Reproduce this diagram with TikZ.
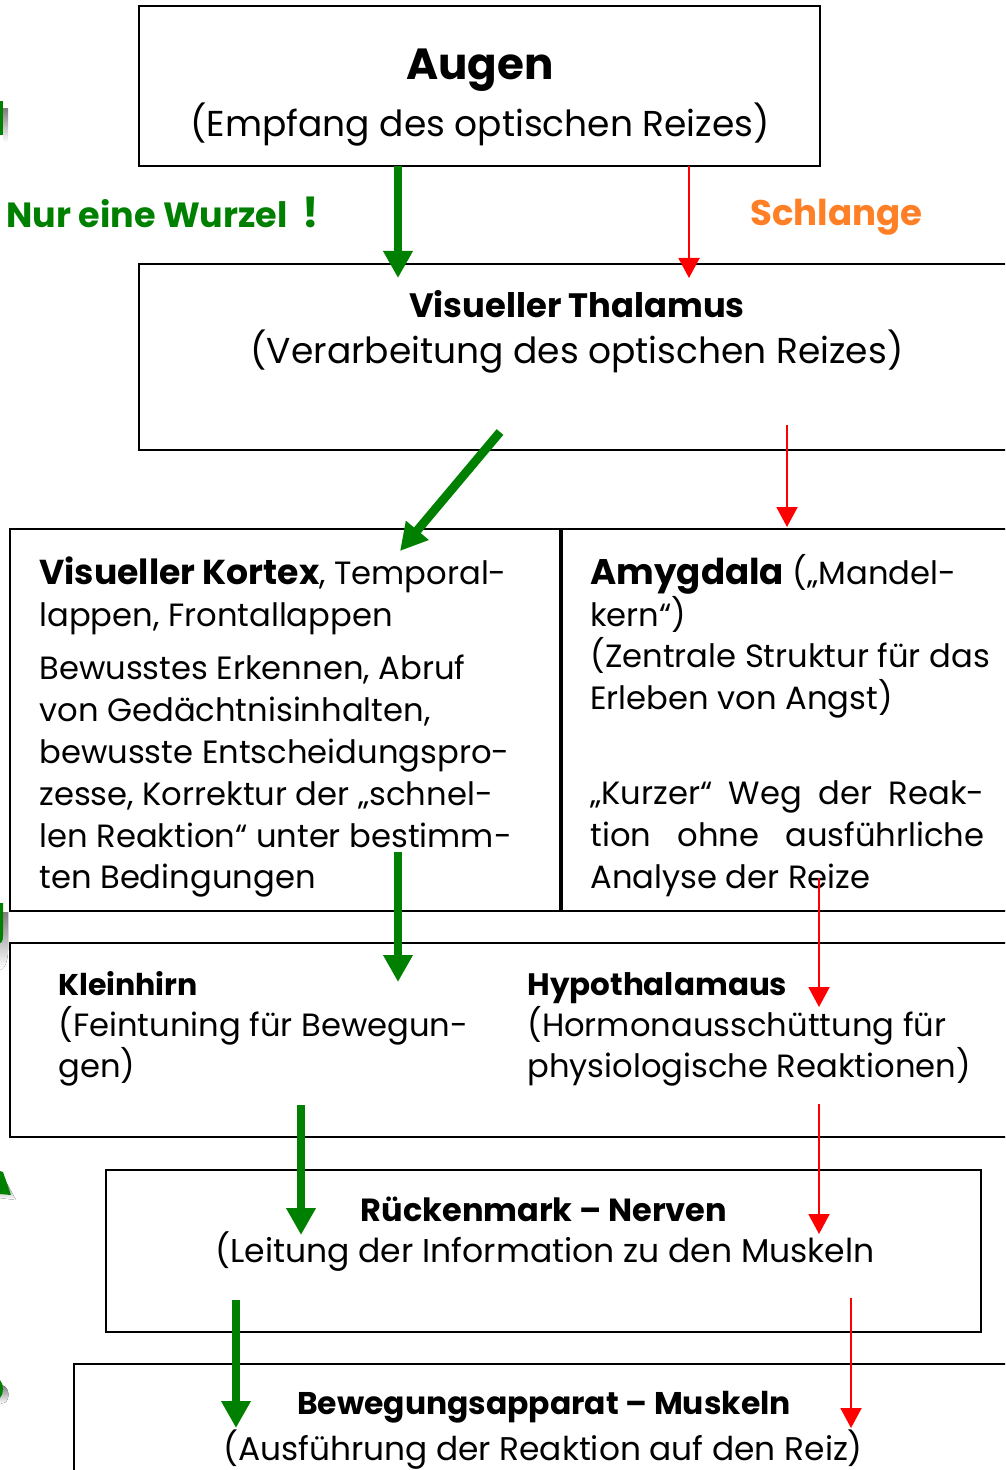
\documentclass[tikz,border=0pt]{standalone}
\usepackage{fontspec}
\setmainfont{Poppins}
\usetikzlibrary{arrows.meta}
\definecolor{gr}{RGB}{0,128,0}
\definecolor{rd}{RGB}{255,0,0}
\definecolor{org}{RGB}{255,127,39}
\definecolor{shade}{RGB}{180,180,180}
\newcommand{\fsz}[1]{\fontsize{#1}{19}\selectfont}
\newcommand{\bsz}[2]{{\fontsize{#1}{19}\selectfont\bfseries #2}}
\tikzset{
  boxline/.style={draw=black,line width=1.4pt},
  garrow/.style={draw=gr,line width=4.4pt,-{Triangle[width=14pt,length=13.5pt]}},
  rarrow/.style={draw=rd,line width=1pt,-{Triangle[width=10.5pt,length=10pt]}},
  txt/.style={inner sep=0pt,anchor=base west,font=\fsz{16.1}},
  ctxt/.style={inner sep=0pt,anchor=base,font=\fsz{16.1}},
}
\begin{document}
\begin{tikzpicture}[x=0.5pt,y=-0.5pt]
\useasboundingbox (0,0) rectangle (1005,1470);
\clip (0,0) rectangle (1005,1470);
% left edge remnants
\fill[shade] (3,109) rectangle (8,142);
\fill[gr] (0,101) rectangle (3,135);
\fill[shade] (0,912) -- (8,912) -- (8,950) .. controls (8,962) and (4,970) .. (0,970) -- cycle;
\fill[gr] (0,903) -- (3,903) -- (3,935) .. controls (3,940) and (2,943) .. (0,943) -- cycle;
\fill[shade] (0,1178) -- (5,1180) -- (16,1200) -- (0,1198) -- cycle;
\fill[gr] (0,1171) -- (3,1172) -- (11,1195) -- (0,1194) -- cycle;
\fill[shade] (0,1385) .. controls (8,1385) and (11,1395) .. (6,1402) -- (0,1404) -- cycle;
\fill[gr] (0,1380) .. controls (4,1384) and (4,1394) .. (0,1398) -- cycle;
% boxes
\draw[boxline] (139,6) rectangle (820,166);
\draw[boxline] (139,264) rectangle (1020,450);
\draw[boxline] (10,529) rectangle (560,911);
\draw[boxline] (562,529) rectangle (1020,911);
\draw[boxline] (10,943) rectangle (1020,1137);
\draw[boxline] (106,1170) rectangle (981,1332);
\draw[boxline] (74,1364) rectangle (1020,1490);
% texts
\node[ctxt] (augen) at (480,80) {\bsz{21.8}{Augen}};
\node[ctxt,font=\fsz{18}] (augen2) at (480,137) {(Empfang des optischen Reizes)};
\node[txt,text=gr] (wurzel) at (6,228) {\bsz{17.5}{Nur eine Wurzel}};
\node[txt,text=gr] (ausruf) at (302,228) {\bsz{21}{!}};
\node[txt,text=org] (schlange) at (750,226) {\bsz{17.8}{Schlange}};
\node[ctxt] (thal) at (577,318) {\bsz{16.9}{Visueller Thalamus}};
\node[ctxt,font=\fsz{18}] (thal2) at (577,364) {(Verarbeitung des optischen Reizes)};
% Kortex
\node[txt] (k1) at (39,584) {\bsz{17.3}{Visueller Kortex}, Temporal-};
\node[txt] (k2) at (39,626) {lappen, Frontallappen};
\node[txt] (k3) at (39,679) {Bewusstes Erkennen, Abruf};
\node[txt] (k4) at (39,721) {von Gedächtnisinhalten,};
\node[txt] (k5) at (39,763) {bewusste Entscheidungspro-};
\node[txt] (k6) at (39,805) {zesse, Korrektur der „schnel-};
\node[txt] (k7) at (39,847) {len Reaktion“ unter bestimm-};
\node[txt] (k8) at (39,888) {ten Bedingungen};
% Amygdala
\node[txt] (a1) at (590,584) {\bsz{17.8}{Amygdala} („Mandel-};
\node[txt] (a2) at (590,626) {kern“)};
\node[txt] (a3) at (590,667) {(Zentrale Struktur für das};
\node[txt] (a4) at (590,709) {Erleben von Angst)};
\node[txt] (a5) at (590,804) {\makebox[197pt][s]{„Kurzer“ Weg der Reak-}};
\node[txt] (a6) at (590,846) {\makebox[197pt][s]{tion ohne ausführliche}};
\node[txt] (a7) at (590,888) {Analyse der Reize};
% Kleinhirn / Hypothalamus
\node[txt] (h1) at (58,995) {\bsz{15}{Kleinhirn}};
\node[txt] (h2) at (58,1036) {(Feintuning für Bewegun-};
\node[txt] (h3) at (58,1077) {gen)};
\node[txt] (y1) at (527,995) {\bsz{15.5}{Hypothalamaus}};
\node[txt] (y2) at (527,1036) {(Hormonausschüttung für};
\node[txt] (y3) at (527,1077) {physiologische Reaktionen)};
% Rueckenmark
\node[ctxt] (r1) at (544,1221) {\bsz{16}{Rückenmark – Nerven}};
\node[ctxt,font=\fsz{16.5}] (r2) at (545,1262) {(Leitung der Information zu den Muskeln};
% Bewegungsapparat
\node[ctxt] (b1) at (544,1414) {\bsz{15.7}{Bewegungsapparat – Muskeln}};
\node[ctxt,font=\fsz{16.4}] (b2) at (543,1460) {(Ausführung der Reaktion auf den Reiz)};
% arrow endpoints
\coordinate (g1s) at (398,166); \coordinate (g1e) at (398,278);
\coordinate (r1s) at (689,166); \coordinate (r1e) at (689,278);
\coordinate (g2s) at (500,432); \coordinate (g2e) at (400,551);
\coordinate (r2s) at (787,425); \coordinate (r2e) at (787,527);
\coordinate (g3s) at (398,852); \coordinate (g3e) at (398,982);
\coordinate (r3s) at (819,878); \coordinate (r3e) at (819,1007);
\coordinate (g4s) at (301,1105); \coordinate (g4e) at (301,1235);
\coordinate (r4s) at (819,1104); \coordinate (r4e) at (819,1234);
\coordinate (g5s) at (236,1300); \coordinate (g5e) at (236,1428);
\coordinate (r5s) at (851,1298); \coordinate (r5e) at (851,1428);
\draw[garrow] (g1s) -- (g1e);
\draw[rarrow] (r1s) -- (r1e);
\draw[garrow] (g2s) -- (g2e);
\draw[rarrow] (r2s) -- (r2e);
\draw[garrow] (g3s) -- (g3e);
\draw[rarrow] (r3s) -- (r3e);
\draw[garrow] (g4s) -- (g4e);
\draw[rarrow] (r4s) -- (r4e);
\draw[garrow] (g5s) -- (g5e);
\draw[rarrow] (r5s) -- (r5e);
\end{tikzpicture}
\end{document}
